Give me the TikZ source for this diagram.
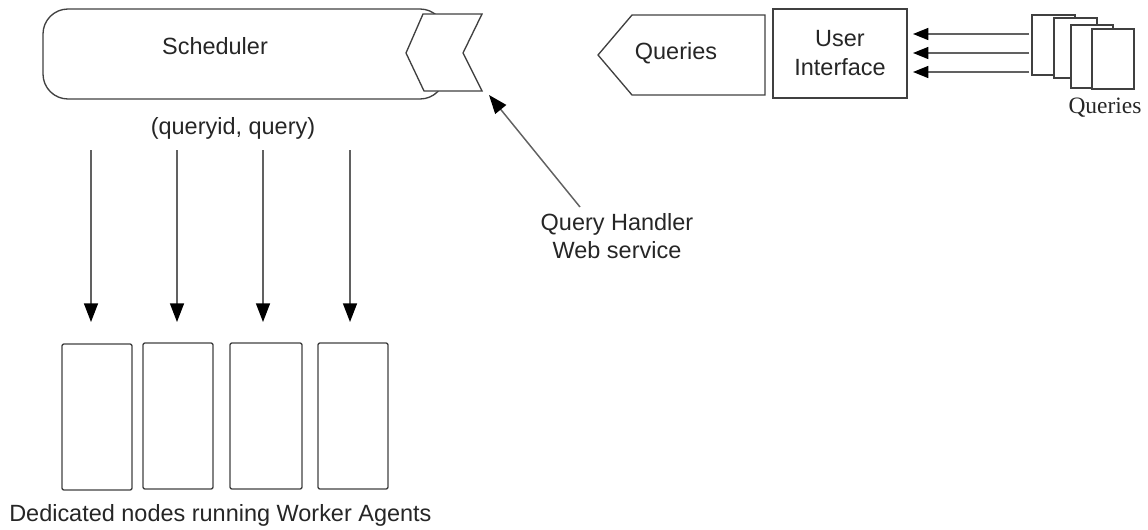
\documentclass[tikz,border=0pt]{standalone}
\usepackage{fontspec}
\setmainfont{Liberation Sans}
\newfontfamily\serifface{Liberation Serif}
\usetikzlibrary{arrows.meta,calc}
\begin{document}
\begin{tikzpicture}[x=0.75pt,y=-0.75pt,
  outline/.style={draw=black!75, line width=1pt},
  link/.style={draw=black!62, line width=1.1pt, -{Triangle[length=14pt,width=10.5pt,black]}},
  smalllink/.style={draw=black!62, line width=1.1pt, -{Triangle[length=11.5pt,width=9pt,black]}},
  lbl/.style={text=black!85, font=\fontsize{17.6}{21.5}\selectfont, align=center, inner sep=0pt},
  worker/.style={outline, rounded corners=1.5pt, minimum height=109.5pt, inner sep=0pt},
  page/.style={outline, fill=white},
]
\useasboundingbox (0,0) rectangle (1148,529);

% scheduler body with its web-service port
\draw[outline, rounded corners=18.75pt] (43,9) rectangle (445,99);
\node[lbl] (sched) at (215,46) {Scheduler};
\draw[outline, fill=white] (423,14) -- (482,14) -- (463,53) -- (482,91)
  -- (424,91) -- (406,53) -- cycle;
\coordinate (port) at (489,95);

% query handler label and its pointer
\node[lbl, text depth=0pt] (qh) at (617,236) {Query Handler\\Web service};
\coordinate (qhtail) at (580,207);
\draw[link] (qhtail) -- (port);

% dispatched pairs
\node[lbl] (pair) at (233,128) {(queryid, query)};

% worker nodes
\node[worker, minimum width=52.5pt] (w1) at (97,417) {};
\node[worker, minimum width=52.5pt] (w2) at (178,416) {};
\node[worker, minimum width=54pt] (w3) at (266,416) {};
\node[worker, minimum width=52.5pt] (w4) at (353,416) {};
\node[lbl, anchor=west] (workers) at (9,515) {Dedicated nodes running Worker Agents};

\foreach \i/\x in {1/91,2/177,3/263,4/350}{
  \coordinate (d\i s) at (\x,150);
  \coordinate (d\i e) at (\x,322);
  \draw[link] (d\i s) -- (d\i e);
}

% queries sent on to the scheduler
\draw[outline] (598,55) -- (632,15) -- (765,15) -- (765,95) -- (632,95) -- cycle;
\node[lbl] (qout) at (676,53) {Queries};

% user interface
\node[outline, minimum width=100.5pt, minimum height=66.75pt, inner sep=0pt] (ui) at (840,53.5) {};
\node[lbl] (uitext) at (840,53) {User\\Interface};

% stack of incoming queries
\draw[page] (1032,15) rectangle (1075,75);
\draw[page] (1054,18) rectangle (1097,78);
\draw[page] (1071,25) rectangle (1113,88);
\draw[page] (1092,29) rectangle (1134,89);
\node[lbl, font=\serifface\fontsize{17.6}{21.5}\selectfont] (qin) at (1105,108) {Queries};

\foreach \i/\y in {1/34,2/53,3/72}{
  \coordinate (q\i s) at (1029,\y);
  \coordinate (q\i e) at (913,\y);
  \draw[smalllink] (q\i s) -- (q\i e);
}
\end{tikzpicture}
\end{document}
